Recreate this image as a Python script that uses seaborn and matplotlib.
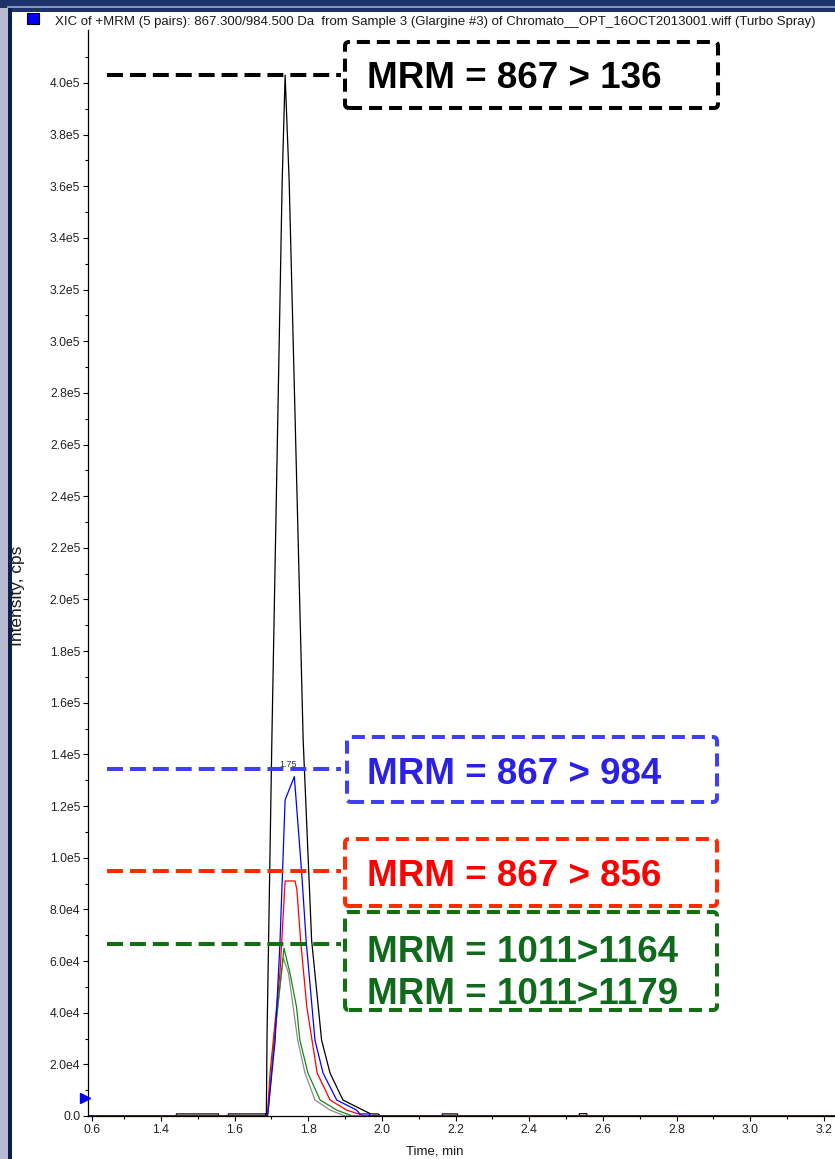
import matplotlib
matplotlib.use("Agg")
import matplotlib.pyplot as plt
import matplotlib.patches as mpatches
import matplotlib.transforms as mtransforms
from matplotlib.ticker import FixedLocator, FuncFormatter
import numpy as np
import pandas as pd
import seaborn as sns

# ---- chromatogram traces (time in min, intensity in cps) ----
black_t = [1.200, 1.441, 1.442, 1.556, 1.557, 1.582, 1.583, 1.684, 1.686, 1.688, 1.701,
           1.729, 1.737, 1.748, 1.786, 1.809, 1.836, 1.859, 1.894, 1.948, 1.970, 1.990,
           1.995, 2.163, 2.164, 2.205, 2.206, 2.535, 2.536, 2.556, 2.557, 3.230]
black_v = [0, 0, 800, 800, 0, 0, 800, 800, 0, 32000, 145600,
           362000, 403000, 362000, 145600, 68000, 29400, 16600, 6200, 2300, 800, 800,
           0, 0, 800, 800, 0, 0, 900, 900, 0, 0]

gray_t = [1.200, 1.689, 1.707, 1.732, 1.746, 1.759, 1.771, 1.791, 1.818, 1.859, 1.900, 3.230]
gray_v = [0, 0, 29400, 61200, 55400, 42200, 29400, 16600, 6200, 2300, 0, 0]

green_t = [1.200, 1.688, 1.691, 1.710, 1.734, 1.750, 1.768, 1.777, 1.799, 1.832, 1.877, 1.919, 3.230]
green_v = [0, 0, 2300, 33300, 65000, 55400, 42200, 29400, 16600, 6200, 2300, 0, 0]

red_t = [1.200, 1.689, 1.696, 1.723, 1.737, 1.764, 1.769, 1.779, 1.796, 1.824, 1.859, 1.904, 1.954, 3.230]
red_v = [0, 0, 16600, 55400, 91000, 91000, 87500, 68000, 42200, 16600, 6200, 2300, 0, 0]

blue_t = [1.200, 1.689, 1.691, 1.710, 1.723, 1.737, 1.762, 1.782, 1.794, 1.818, 1.840, 1.877,
          1.931, 1.940, 1.966, 1.967, 3.230]
blue_v = [0, 0, 2300, 29400, 67000, 122400, 131400, 94100, 68000, 29400, 16600, 6200,
          2300, 800, 800, 0, 0]

series_names = ["867>136", "1011>1179", "1011>1164", "867>856", "867>984"]
series_colors = ["#000000", "#8c8c8c", "#118a11", "#ff0000", "#0000ff"]

# ---- annotation boxes ----
box_lines = [["MRM = 867 > 136"], ["MRM = 867 > 984"], ["MRM = 867 > 856"],
             ["MRM = 1011>1164", "MRM = 1011>1179"]]
box_edge_colors = ["#000000", "#4040f2", "#ff2a00", "#127012"]
box_text_colors = ["#000000", "#2b20e6", "#ff0000", "#0f6a1c"]
leader_levels = [403000, 134400, 94900, 66600]

# ---- axis ticks ----
x_tick_pos = [1.2125, 1.4, 1.6, 1.8, 2.0, 2.2, 2.4, 2.6, 2.8, 3.0, 3.2]
x_tick_labels = ["0.6", "1.4", "1.6", "1.8", "2.0", "2.2", "2.4", "2.6", "2.8", "3.0", "3.2"]
y_tick_pos = list(range(0, 400001, 20000))

title = ("XIC of +MRM (5 pairs): 867.300/984.500 Da  from Sample 3 (Glargine #3) of "
         "Chromato__OPT_16OCT2013001.wiff (Turbo Spray)")
apex_label = "1.75"

# ---------------------------------------------------------------------------
W, H = 835, 1159
sns.set_theme(style="white")
plt.rcParams["font.family"] = ["Liberation Sans", "DejaVu Sans"]
plt.rcParams["lines.scale_dashes"] = False

fig = plt.figure(figsize=(W / 100, H / 100), dpi=100)
fig.patch.set_facecolor("white")

px = mtransforms.IdentityTransform()


def rect_px(x0, y0, x1, y1, color, z=0):
    r = mpatches.Rectangle((x0, H - y1), x1 - x0, y1 - y0, transform=px,
                           facecolor=color, edgecolor="none", zorder=z)
    fig.add_artist(r)


# window frame
rect_px(0, 0, W, 12, "#1c326a")
rect_px(7, 6, W, 7.5, "#8396c2")
rect_px(0, 8, 7.5, H, "#b6bbcf")
rect_px(7.5, 8, 12, H, "#0c1f4e")

# title with legend swatch
sw = mpatches.Rectangle((27, H - 24), 12, 11, transform=px, facecolor="#0000ff",
                        edgecolor="#000000", lw=0.8)
fig.add_artist(sw)
fig.text(55 / W, 1 - 22 / H, title, ha="left", va="center", fontsize=9.5,
         color="#1a1a1a")

ax = fig.add_axes([88 / W, 1 - 1116 / H, (W - 88) / W, (1116 - 30) / H])
ax.set_facecolor("white")

frames = []
for name, t, v in zip(series_names,
                      [black_t, gray_t, green_t, red_t, blue_t],
                      [black_v, gray_v, green_v, red_v, blue_v]):
    frames.append(pd.DataFrame({"time": t, "intensity": v, "transition": name}))
df = pd.concat(frames, ignore_index=True)

sns.lineplot(data=df, x="time", y="intensity", hue="transition",
             hue_order=series_names, palette=series_colors, estimator=None,
             sort=False, lw=0.9, legend=False, ax=ax)

ax.set_xlim(1.2018, 3.230)
ax.set_ylim(0, 420500)

for s in ["top", "right"]:
    ax.spines[s].set_visible(False)
for s in ["left", "bottom"]:
    ax.spines[s].set_color("#000000")
    ax.spines[s].set_linewidth(0.9)

ax.xaxis.set_major_locator(FixedLocator(x_tick_pos))
ax.set_xticklabels(x_tick_labels)
ax.xaxis.set_minor_locator(FixedLocator(np.arange(1.3, 3.25, 0.2)))
ax.yaxis.set_major_locator(FixedLocator(y_tick_pos))
ax.yaxis.set_minor_locator(FixedLocator(np.arange(10000, 420000, 20000)))


def y_fmt(v, pos):
    if v == 0:
        return "0.0"
    exp = int(np.floor(np.log10(v)))
    return f"{v / 10 ** exp:.1f}e{exp}"


ax.yaxis.set_major_formatter(FuncFormatter(y_fmt))
ax.tick_params(axis="both", which="major", direction="out", length=3.5, width=0.8,
               color="#000000", labelsize=8.8, labelcolor="#222222", pad=2,
               left=True, bottom=True)
ax.tick_params(axis="both", which="minor", direction="out", length=2.5, width=0.8,
               color="#000000", left=True, bottom=True)
ax.set_xlabel("")
ax.set_ylabel("")

fig.text(18 / W, 1 - 596 / H, "Intensity, cps", rotation=90, ha="center", va="center",
         fontsize=12.5, color="#1a1a1a")
fig.text(435 / W, 1 - 1151 / H, "Time, min", ha="center", va="center",
         fontsize=9.5, color="#1a1a1a")

# threshold marker on the intensity axis
ax.plot([-0.004], [7000], marker=">", ms=7, color="#0000ff", mec="#0000ff",
        transform=mtransforms.blended_transform_factory(ax.transAxes, ax.transData),
        clip_on=False, zorder=5)

# apex retention-time label on the 867>984 trace
bi = int(np.argmax(blue_v))
ax.annotate(apex_label, (blue_t[bi], blue_v[bi]), xytext=(-6, 8),
            textcoords="offset pixels", ha="center", va="bottom", fontsize=6.5,
            color="#333333")

# dashed leader lines and boxed labels
box_px = [(345, 42, 718, 108), (347, 737, 717, 802), (345, 839, 717, 906),
          (345, 912, 717, 1010)]
text_y = [[75], [771], [873], [948, 990]]
for lines, ec, tc, lvl, (x0, y0, x1, y1), tys in zip(box_lines, box_edge_colors,
                                                    box_text_colors, leader_levels,
                                                    box_px, text_y):
    ax.plot([1.2525, 1.8895], [lvl, lvl], color=ec, lw=2.9, ls=(0, (11.5, 5.0)),
            solid_capstyle="butt", dash_capstyle="butt", clip_on=False, zorder=6)
    p = mpatches.FancyBboxPatch((x0, H - y1), x1 - x0, y1 - y0,
                                boxstyle="round,pad=0,rounding_size=4",
                                transform=px, facecolor="white", edgecolor=ec,
                                lw=2.9, ls=(0, (9.4, 5.0)), zorder=7)
    fig.add_artist(p)
    for line, ty in zip(lines, tys):
        fig.text(367 / W, 1 - ty / H, line, ha="left", va="center_baseline",
                 fontsize=26.5, fontweight="bold", color=tc, zorder=8)

fig.savefig("out.png", dpi=100)
